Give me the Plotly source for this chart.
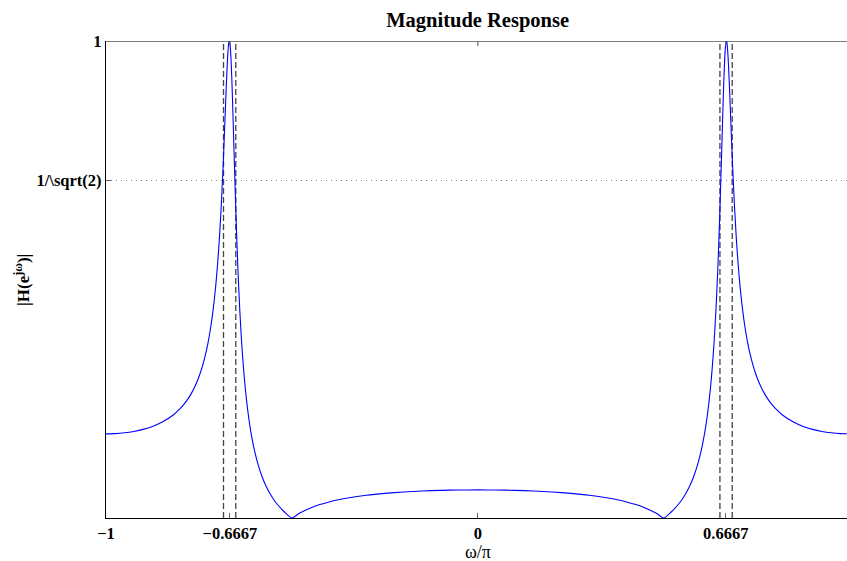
import plotly.graph_objects as go

# Normalized frequency (omega/pi) and magnitude |H(e^jw)|
omega = [-1.0, -0.975, -0.95, -0.925, -0.9, -0.875, -0.85, -0.82, -0.8, -0.79, -0.78, -0.77,
         -0.76, -0.75, -0.74, -0.73, -0.725, -0.72, -0.715, -0.71, -0.705, -0.7, -0.695, -0.69,
         -0.685, -0.68, -0.676, -0.673, -0.67, -0.668, -0.666, -0.663, -0.66, -0.655, -0.65,
         -0.645, -0.64, -0.635, -0.63, -0.625, -0.62, -0.615, -0.61, -0.6, -0.59, -0.58,
         -0.57, -0.56, -0.55, -0.54, -0.52, -0.5, -0.48, -0.45, -0.425, -0.4, -0.375, -0.35,
         -0.3, -0.25, -0.2, -0.15, -0.1, -0.05,
         0.0,
         0.05, 0.1, 0.15, 0.2, 0.25, 0.3, 0.35, 0.375, 0.4, 0.425, 0.45, 0.48, 0.5, 0.52,
         0.54, 0.55, 0.56, 0.57, 0.58, 0.59, 0.6, 0.61, 0.615, 0.62, 0.625, 0.63, 0.635, 0.64,
         0.645, 0.65, 0.655, 0.66, 0.663, 0.666, 0.668, 0.67, 0.673, 0.676, 0.68, 0.685, 0.69,
         0.695, 0.7, 0.705, 0.71, 0.715, 0.72, 0.725, 0.73, 0.74, 0.75, 0.76, 0.77, 0.78,
         0.79, 0.8, 0.82, 0.85, 0.875, 0.9, 0.925, 0.95, 0.975, 1.0]
magnitude = [0.1764, 0.1769, 0.1786, 0.1815, 0.1858, 0.1920, 0.2006, 0.2155, 0.2296, 0.2386,
             0.2491, 0.2618, 0.2772, 0.2961, 0.3200, 0.3508, 0.3699, 0.3920, 0.4180, 0.4491,
             0.4862, 0.5314, 0.5871, 0.6556, 0.7392, 0.8361, 0.9149, 0.9648, 0.9953, 0.9999,
             0.9898, 0.9481, 0.8822, 0.7498, 0.6230, 0.5171, 0.4324, 0.3654, 0.3117, 0.2685,
             0.2328, 0.2033, 0.1784, 0.1389, 0.1091, 0.0860, 0.0675, 0.0524, 0.0399, 0.0293,
             0.0126, 0.0, 0.0098, 0.0210, 0.0281, 0.0337, 0.0383, 0.0420, 0.0477, 0.0517,
             0.0546, 0.0566, 0.0579, 0.0587,
             0.0589,
             0.0587, 0.0579, 0.0566, 0.0546, 0.0517, 0.0477, 0.0420, 0.0383, 0.0337, 0.0281,
             0.0210, 0.0098, 0.0, 0.0126, 0.0293, 0.0399, 0.0524, 0.0675, 0.0860, 0.1091,
             0.1389, 0.1784, 0.2033, 0.2328, 0.2685, 0.3117, 0.3654, 0.4324, 0.5171, 0.6230,
             0.7498, 0.8822, 0.9481, 0.9898, 0.9999, 0.9953, 0.9648, 0.9149, 0.8361, 0.7392,
             0.6556, 0.5871, 0.5314, 0.4862, 0.4491, 0.4180, 0.3920, 0.3699, 0.3508, 0.3200,
             0.2961, 0.2772, 0.2618, 0.2491, 0.2386, 0.2296, 0.2155, 0.2006, 0.1920, 0.1858,
             0.1815, 0.1786, 0.1769, 0.1764]

# 3 dB band edges (dashed vertical markers)
band_edges = [-0.684, -0.651, 0.651, 0.684]

x_tickvals = [-1, -0.6667, 0, 0.6667]
x_ticktext = ["\u22121", "\u22120.6667", "0", "0.6667"]
y_tickvals = [0.7071, 1]
y_ticktext = ["1/\\sqrt(2)", "1"]

SERIF = "Liberation Serif, Times New Roman, serif"

fig = go.Figure()

dx, dy = [], []
for e in band_edges:
    dx += [e, e, None]
    dy += [0, 1, None]
fig.add_trace(go.Scatter(x=dx, y=dy, mode="lines",
                         line=dict(color="#444444", width=1.3, dash="6px,3px"),
                         hoverinfo="skip", showlegend=False))

fig.add_trace(go.Scatter(x=omega, y=magnitude, mode="lines",
                         line=dict(color="#0000FF", width=1.1, shape="spline", smoothing=0.6),
                         showlegend=False, cliponaxis=False))

shapes = [dict(type="line", xref="paper", yref="y", x0=0, x1=1, y0=1, y1=1,
               line=dict(color="black", width=1.2))]
for t in x_tickvals[1:]:
    shapes.append(dict(type="line", xref="x", yref="y", ysizemode="pixel", yanchor=1,
                       x0=t, x1=t, y0=0, y1=-5, line=dict(color="#666666", width=1.2)))

fig.update_layout(
    width=847, height=561,
    margin=dict(l=106, r=0, t=41, b=43),
    paper_bgcolor="white", plot_bgcolor="white",
    title=dict(text="Magnitude Response", x=0.5016, xref="paper", xanchor="center",
               y=1 - 20 / 561, yref="container", yanchor="middle",
               font=dict(family=SERIF, size=20.5, color="black", weight="bold")),
    xaxis=dict(range=[-1, 0.9927], tickvals=x_tickvals, ticktext=x_ticktext,
               ticks="inside", ticklen=5, tickcolor="#666666", tickwidth=1.2,
               showline=True, linecolor="black", linewidth=1.2, mirror=False,
               showgrid=False, zeroline=False,
               tickfont=dict(family=SERIF, size=16.5, color="black", weight="bold")),
    yaxis=dict(range=[0, 1], tickvals=y_tickvals, ticktext=y_ticktext,
               ticks="inside", ticklen=5, tickcolor="#666666", tickwidth=1.2,
               showline=True, linecolor="black", linewidth=1.2, mirror=False,
               showgrid=True, gridcolor="#888888", gridwidth=1, griddash="1px,4px",
               zeroline=False,
               tickfont=dict(family=SERIF, size=16.5, color="black", weight="bold")),
    shapes=shapes,
    annotations=[
        dict(text="\u03c9/\u03c0", xref="paper", yref="paper", x=0.5016, y=-0.071,
             xanchor="center", yanchor="middle", showarrow=False,
             font=dict(family=SERIF, size=18, color="black")),
        dict(text="|H(e<sup>j\u03c9</sup>)|", xref="paper", yref="paper",
             x=-0.1134, y=0.499, xanchor="center", yanchor="middle", textangle=-90,
             showarrow=False,
             font=dict(family=SERIF, size=17, color="black", weight="bold")),
    ],
)

fig.write_html("out.html")
